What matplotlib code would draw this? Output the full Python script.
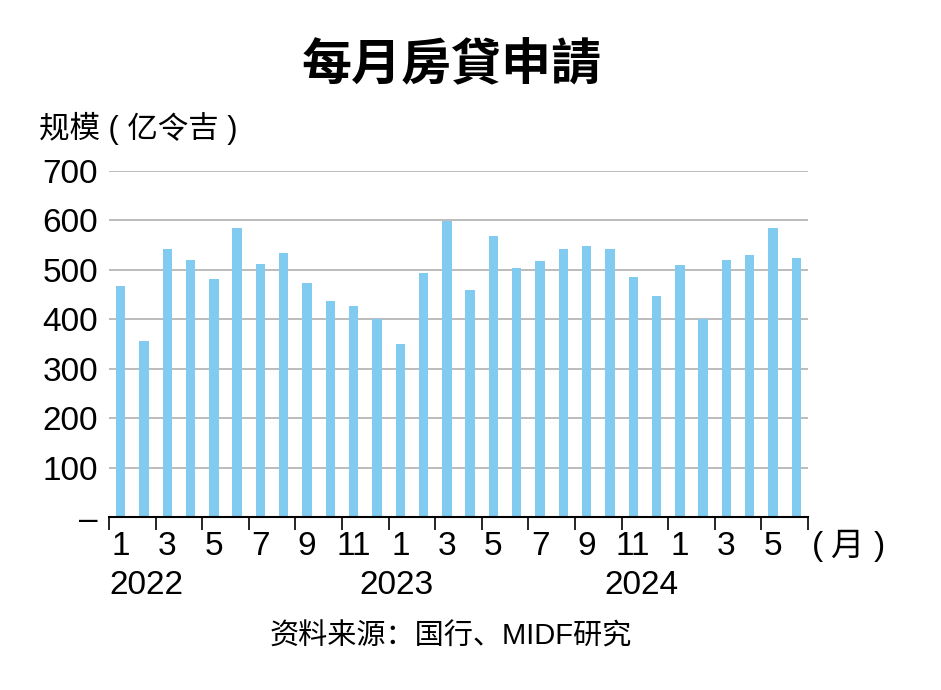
import matplotlib
matplotlib.use('Agg')
import matplotlib.pyplot as plt
import numpy as np

plt.rcParams['font.family'] = ['Liberation Sans', 'Noto Sans CJK SC', 'DejaVu Sans']

# 2022-01 .. 2024-06, 亿令吉
values = [468, 357, 542, 519, 481, 585, 511, 534, 474, 438, 426, 400,
          349, 494, 598, 460, 568, 504, 518, 543, 549, 542, 486, 447,
          509, 400, 520, 530, 585, 524]
month_labels = ['1', '3', '5', '7', '9', '11'] * 2 + ['1', '3', '5']
years = ['2022', '2023', '2024']
y_ticks = [0, 100, 200, 300, 400, 500, 600, 700]
y_labels = ['–', '100', '200', '300', '400', '500', '600', '700']

BAR = '#80cbef'
GRID = '#b0b0b0'

fig = plt.figure(figsize=(9.41, 6.9), dpi=100)
fig.patch.set_facecolor('white')
ax = fig.add_axes([109/941, 1-517/690, 699/941, 346/690])

x = np.arange(len(values))
ax.bar(x, values, width=0.4, color=BAR, zorder=3)

ax.set_xlim(-0.5, len(values) - 0.5)
ax.set_ylim(0, 700)

# y axis
ax.set_yticks(y_ticks)
ax.set_yticklabels(y_labels, fontsize=24)
ax.tick_params(axis='y', length=0, pad=8)
for v in y_ticks[1:]:
    ax.axhline(v, color=GRID, lw=1.2, zorder=1)

# x axis: tick marks between bars, labels under odd months
ax.set_xticks(np.arange(-0.5, len(values), 2))
ax.set_xticklabels([])
ax.tick_params(axis='x', which='major', length=9, width=1.2, color='black', direction='out')
ax.set_xticks(x[::2], minor=True)
ax.set_xticklabels(month_labels, minor=True, fontsize=24)
ax.tick_params(axis='x', which='minor', length=0, pad=10)

for s in ['left', 'top', 'right']:
    ax.spines[s].set_visible(False)
ax.spines['bottom'].set_color('black')
ax.spines['bottom'].set_linewidth(1.5)
ax.spines['bottom'].set_zorder(4)

# (月)
fig.text(812/941, 1-546/690, '(', fontsize=24, ha='left', va='center')
fig.text(847/941, 1-546/690, '月', fontsize=24, ha='center', va='center',
         family=['Noto Sans CJK SC'])
fig.text(885/941, 1-546/690, ')', fontsize=24, ha='right', va='center')

# years
fig.text(109/941, 1-585/690, years[0], fontsize=24, ha='left', va='center')
fig.text(396/941, 1-585/690, years[1], fontsize=24, ha='center', va='center')
fig.text(641/941, 1-585/690, years[2], fontsize=24, ha='center', va='center')

# title, unit, source
fig.text(452/941, 1-66/690, '每月房貸申請', fontsize=36, fontweight='heavy',
         ha='center', va='center', family=['Noto Sans CJK TC'])
fig.text(39/941, 1-128/690, '规模 ( 亿令吉 )', fontsize=22, ha='left', va='center')
fig.text(451/941, 1-637/690, '资料来源：国行、MIDF研究', fontsize=21,
         ha='center', va='center', family=['Liberation Sans', 'Noto Sans CJK SC'])

fig.savefig('out.png', dpi=100, facecolor='white')
